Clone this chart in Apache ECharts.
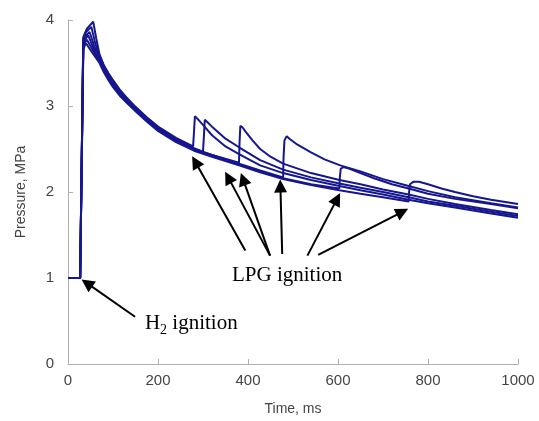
<!DOCTYPE html>
<html><head><meta charset="utf-8">
<script src="https://cdn.jsdelivr.net/npm/echarts@6/dist/echarts.min.js"></script>
<style>html,body{margin:0;padding:0;background:#fff}#c{width:539px;height:421px}</style>
</head><body><div id="c"></div>
<script>
// Time (ms) and pressure (MPa) for each run
const t1 = [0,27,30,34,42,56,63,70,80,90,100,115,130,150,175,200,240,278,280,282,288,300,320,350,380,427,478,540,603,650,700,757,800,860,940,1000];
const p1 = [1.00,1.00,1.02,3.80,3.90,3.98,3.78,3.60,3.47,3.38,3.30,3.19,3.10,2.99,2.87,2.76,2.63,2.53,2.70,2.88,2.85,2.78,2.66,2.53,2.44,2.31,2.22,2.14,2.07,2.02,1.97,1.91,1.87,1.82,1.75,1.70];
const t2 = [0,27,30,34,40,52,60,70,80,90,100,115,130,150,175,200,240,280,300,302,304,310,320,350,380,427,478,540,603,650,700,757,800,860,940,1000];
const p2 = [1.00,1.00,1.02,3.78,3.86,3.92,3.74,3.58,3.46,3.37,3.29,3.18,3.09,2.98,2.86,2.75,2.62,2.51,2.47,2.65,2.84,2.81,2.76,2.62,2.52,2.37,2.26,2.17,2.10,2.05,2.00,1.94,1.89,1.84,1.77,1.72];
const t3 = [0,27,30,34,40,48,58,70,80,90,100,115,130,150,175,200,240,280,320,380,381,383,388,395,410,427,450,478,540,603,650,700,757,800,860,940,1000];
const p3 = [1.00,1.00,1.02,3.76,3.82,3.86,3.70,3.56,3.45,3.36,3.28,3.17,3.08,2.97,2.85,2.74,2.61,2.50,2.43,2.34,2.55,2.77,2.75,2.70,2.60,2.50,2.41,2.33,2.22,2.14,2.09,2.03,1.97,1.92,1.86,1.79,1.74];
const t4 = [0,27,30,34,39,45,56,70,80,90,100,115,130,150,175,200,240,280,320,380,427,478,479,481,486,492,510,540,570,605,650,700,757,800,860,940,1000];
const p4 = [1.00,1.00,1.02,3.72,3.78,3.82,3.68,3.54,3.43,3.34,3.26,3.16,3.07,2.96,2.84,2.73,2.60,2.50,2.43,2.33,2.25,2.17,2.40,2.60,2.65,2.62,2.55,2.46,2.38,2.31,2.24,2.15,2.07,2.01,1.94,1.87,1.82];
const t5 = [0,27,30,34,38,42,55,70,80,90,100,115,130,150,175,200,240,280,320,380,427,478,540,603,604,606,612,620,640,680,720,757,800,860,940,1000];
const p5 = [1.00,1.00,1.02,3.68,3.74,3.77,3.65,3.52,3.41,3.32,3.24,3.14,3.05,2.95,2.83,2.72,2.59,2.49,2.42,2.32,2.24,2.16,2.09,2.04,2.16,2.27,2.29,2.28,2.24,2.16,2.09,2.04,1.98,1.92,1.86,1.81];
const t6 = [0,27,30,34,37,40,54,70,80,90,100,115,130,150,175,200,240,280,320,380,427,478,540,603,650,700,757,758,760,768,780,800,830,860,900,940,1000];
const p6 = [1.00,1.00,1.02,3.65,3.70,3.73,3.62,3.50,3.39,3.30,3.22,3.12,3.04,2.94,2.82,2.71,2.58,2.48,2.41,2.31,2.23,2.15,2.08,2.02,1.98,1.94,1.89,2.00,2.09,2.12,2.12,2.09,2.04,2.00,1.95,1.91,1.86];

const xTicks = [0,200,400,600,800,1000];
const yTicks = [0,1,2,3,4];

// Annotation arrows (data coordinates: [tail, tip])
const lpgArrows = [
  [[394,1.32],[283,2.35]],
  [[449,1.26],[356,2.17]],
  [[449,1.26],[389,2.15]],
  [[476,1.28],[472,2.07]],
  [[532,1.26],[598,1.92]],
  [[556,1.27],[743,1.77]]
];
const h2Arrow = [[149,0.55],[42,0.94]];
const lpgLabelAt = [487,1.03];
const h2LabelAt = [171,0.45];

function pairs(t,p){return t.map((v,i)=>[v,p[i]]);}
const runs = [[t1,p1],[t2,p2],[t3,p3],[t4,p4],[t5,p5],[t6,p6]];
const lineColor = '#16168f';

const series = runs.map(([t,p])=>({
  type:'line', data:pairs(t,p), showSymbol:false, symbol:'none',
  lineStyle:{color:lineColor,width:2}, animation:false, z:3
}));

const arrowData = lpgArrows.concat([h2Arrow]).map(a=>[{coord:a[0]},{coord:a[1]}]);
series.push({
  type:'line', data:[], silent:true, animation:false,
  markLine:{
    silent:true, animation:false,
    symbol:['none','triangle'], symbolSize:13,
    itemStyle:{color:'#000'},
    lineStyle:{color:'#000',width:2,type:'solid'},
    label:{show:false},
    emphasis:{disabled:true},
    data:arrowData
  },
  markPoint:{
    silent:true, animation:false, symbol:'circle', symbolSize:0,
    data:[
      {coord:lpgLabelAt, label:{show:true,formatter:'LPG ignition',color:'#000',fontFamily:'Liberation Serif',fontSize:21,position:'inside'}},
      {coord:h2LabelAt, label:{show:true,position:'right',distance:0,
        formatter:'{a|H}{s|2}{a| ignition}',
        rich:{a:{fontFamily:'Liberation Serif',fontSize:21,color:'#000',verticalAlign:'top',lineHeight:24},
              s:{fontFamily:'Liberation Serif',fontSize:14,color:'#000',verticalAlign:'bottom',lineHeight:14,padding:[11,0,0,0]}}}}
    ]
  }
});

const chart = echarts.init(document.getElementById('c'),null,{renderer:'canvas'});
chart.setOption({
  animation:false,
  backgroundColor:'#fff',
  grid:{left:68,right:21,top:20,bottom:55,containLabel:false},
  xAxis:{
    type:'value', min:xTicks[0], max:xTicks[xTicks.length-1], interval:200,
    name:'Time, ms', nameLocation:'middle', nameGap:38,
    nameTextStyle:{color:'#444',fontFamily:'Liberation Sans',fontSize:14},
    axisLine:{lineStyle:{color:'#b0b0b0',width:1}},
    axisTick:{inside:true,length:5,lineStyle:{color:'#b0b0b0'}},
    axisLabel:{color:'#444',fontFamily:'Liberation Sans',fontSize:15,margin:9,formatter:v=>String(v)},
    splitLine:{show:false}
  },
  yAxis:{
    type:'value', min:yTicks[0], max:yTicks[yTicks.length-1], interval:1,
    name:'Pressure, MPa', nameLocation:'middle', nameGap:40,
    nameTextStyle:{color:'#444',fontFamily:'Liberation Sans',fontSize:14},
    axisLine:{show:true,lineStyle:{color:'#b0b0b0',width:1}},
    axisTick:{show:true,inside:true,length:5,lineStyle:{color:'#b0b0b0'}},
    axisLabel:{color:'#444',fontFamily:'Liberation Sans',fontSize:15,margin:14,formatter:v=>String(v)},
    splitLine:{show:false}
  },
  series:series
});
</script></body></html>
